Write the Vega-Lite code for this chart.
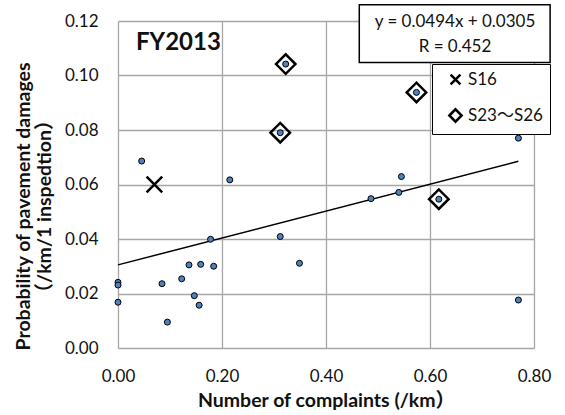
{
  "$schema": "https://vega.github.io/schema/vega-lite/v6.json",
  "width": 416,
  "height": 327,
  "autosize": "none",
  "padding": {"left": 118, "top": 21, "right": 31, "bottom": 67},
  "config": {
    "view": {"stroke": null},
    "font": "Lato, 'Noto Sans CJK JP'",
    "axis": {
      "domain": false,
      "ticks": false,
      "grid": true,
      "gridColor": "#a6a6a6",
      "gridWidth": 1.3,
      "labelFont": "Lato, 'Noto Sans CJK JP'",
      "labelFontSize": 17,
      "labelColor": "#111111",
      "titleFont": "Lato, 'Noto Sans CJK JP'",
      "titleFontSize": 19.5,
      "titleFontWeight": "bold",
      "titleColor": "#111111"
    }
  },
  "datasets": {
    "pts": [
      {"x": 0.0455, "y": 0.0686, "group": "none"},
      {"x": 0.215, "y": 0.0617, "group": "none"},
      {"x": 0.178, "y": 0.0399, "group": "none"},
      {"x": 0.1365, "y": 0.0305, "group": "none"},
      {"x": 0.159, "y": 0.0307, "group": "none"},
      {"x": 0.184, "y": 0.0300, "group": "none"},
      {"x": 0.1225, "y": 0.0254, "group": "none"},
      {"x": 0.0846, "y": 0.0236, "group": "none"},
      {"x": 0.1468, "y": 0.0192, "group": "none"},
      {"x": 0.156, "y": 0.0157, "group": "none"},
      {"x": 0.095, "y": 0.0095, "group": "none"},
      {"x": 0.0, "y": 0.0241, "group": "none"},
      {"x": 0.0, "y": 0.0231, "group": "none"},
      {"x": 0.0, "y": 0.0168, "group": "none"},
      {"x": 0.312, "y": 0.0409, "group": "none"},
      {"x": 0.349, "y": 0.0311, "group": "none"},
      {"x": 0.770, "y": 0.0770, "group": "none"},
      {"x": 0.545, "y": 0.0629, "group": "none"},
      {"x": 0.540, "y": 0.0571, "group": "none"},
      {"x": 0.4865, "y": 0.0548, "group": "none"},
      {"x": 0.770, "y": 0.0176, "group": "none"},
      {"x": 0.3225, "y": 0.1042, "group": "S23～S26"},
      {"x": 0.312, "y": 0.0790, "group": "S23～S26"},
      {"x": 0.574, "y": 0.0938, "group": "S23～S26"},
      {"x": 0.617, "y": 0.0546, "group": "S23～S26"},
      {"x": 0.070, "y": 0.0600, "group": "S16"}
    ],
    "trend": [
      {"x": 0.0, "y": 0.0305},
      {"x": 0.77, "y": 0.06854}
    ],
    "box": [
      {"x": 0.464, "x2": 0.831, "y": 0.1048, "y2": 0.126}
    ],
    "eq": [
      {"x": 0.648, "y": 0.1197, "label": "y = 0.0494x + 0.0305"},
      {"x": 0.648, "y": 0.1103, "label": "R = 0.452"}
    ],
    "tag": [
      {"x": 0.0346, "y": 0.112, "label": "FY2013"}
    ]
  },
  "encoding": {
    "x": {
      "field": "x",
      "type": "quantitative",
      "scale": {"domain": [0, 0.8], "nice": false},
      "axis": {
        "values": [0, 0.2, 0.4, 0.6, 0.8],
        "format": ".2f",
        "labelFlush": false,
        "labelOverlap": false,
        "labelPadding": 28,
        "labelBaseline": "middle",
        "title": "Number of complaints (/km）",
        "titleY": 52,
        "titleBaseline": "middle"
      }
    },
    "y": {
      "field": "y",
      "type": "quantitative",
      "scale": {"domain": [0, 0.12], "nice": false},
      "axis": {
        "values": [0, 0.02, 0.04, 0.06, 0.08, 0.1, 0.12],
        "format": ".2f",
        "labelFlush": false,
        "labelOverlap": false,
        "labelPadding": 20,
        "title": ["Probability of pavement damages", "（/km/1 inspedtion）"],
        "titleX": -95,
        "titleY": 185,
        "titleAngle": -90,
        "titleAlign": "center",
        "titleBaseline": "middle",
        "titleLineHeight": 21
      }
    }
  },
  "layer": [
    {
      "data": {"name": "trend"},
      "mark": {"type": "line", "color": "black", "strokeWidth": 1.5}
    },
    {
      "data": {"name": "pts"},
      "transform": [{"filter": "datum.group != 'none'"}],
      "mark": {"type": "point", "filled": false, "stroke": "black", "strokeWidth": 2.5, "size": 380, "opacity": 1},
      "encoding": {
        "shape": {
          "field": "group",
          "type": "nominal",
          "scale": {
            "domain": ["S16", "S23～S26"],
            "range": ["M-0.8,-0.8L0.8,0.8M0.8,-0.8L-0.8,0.8", "diamond"]
          },
          "legend": {
            "title": null,
            "orient": "none",
            "legendX": 314,
            "legendY": 43,
            "fillColor": "white",
            "strokeColor": "black",
            "padding": 7,
            "symbolSize": 150,
            "symbolStrokeWidth": 2.5,
            "symbolStrokeColor": "black",
            "symbolOffset": 8,
            "labelOffset": 4,
            "labelFont": "Lato, 'Noto Sans CJK JP'",
            "labelFontSize": 17,
            "labelColor": "#111111",
            "rowPadding": 14,
            "labelExpr": "datum.label + '\u00a0'"
          }
        }
      }
    },
    {
      "data": {"name": "pts"},
      "transform": [{"filter": "datum.group != 'S16'"}],
      "mark": {"type": "circle", "fill": "#4f81bd", "stroke": "black", "strokeWidth": 1, "size": 36, "opacity": 1}
    },
    {
      "data": {"name": "box"},
      "mark": {"type": "rect", "fill": "white", "stroke": "black", "strokeWidth": 1.5, "clip": false},
      "encoding": {
        "x2": {"field": "x2"},
        "y2": {"field": "y2"}
      }
    },
    {
      "data": {"name": "eq"},
      "mark": {"type": "text", "font": "Lato", "fontSize": 17, "color": "#111111", "align": "center", "baseline": "middle", "clip": false},
      "encoding": {"text": {"field": "label"}}
    },
    {
      "data": {"name": "tag"},
      "mark": {"type": "text", "font": "Lato", "fontSize": 24, "fontWeight": "bold", "color": "#111111", "align": "left", "baseline": "middle"},
      "encoding": {"text": {"field": "label"}}
    }
  ]
}
